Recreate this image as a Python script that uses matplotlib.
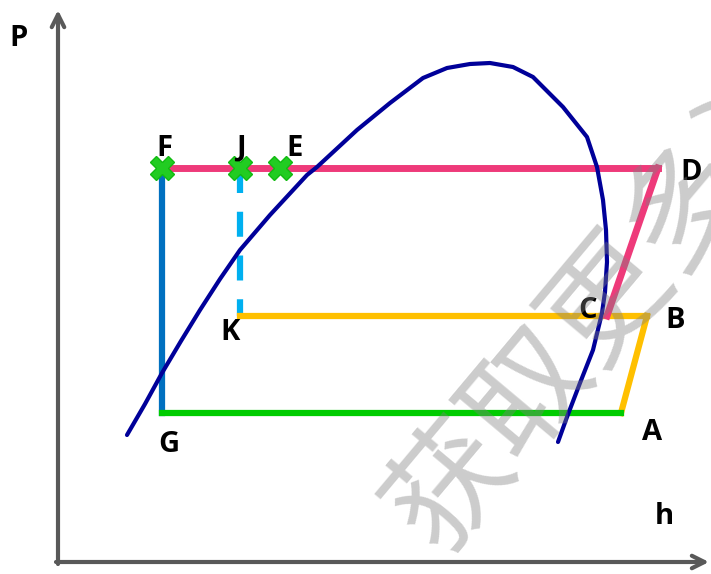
import matplotlib
matplotlib.use('Agg')
import matplotlib.pyplot as plt

W, H = 711, 574

# dome (saturation curve), pixel-like coordinates (y down)
dome_h = [127, 145, 162, 181, 200, 220, 240, 270, 307, 317, 357, 390, 423,
          447, 470, 490, 513, 533, 563, 587, 597, 603, 606, 607, 605, 602,
          593, 580, 567, 558]
dome_p = [435, 404, 373, 341, 310, 279, 250, 215, 175, 167, 130, 103, 78,
          68, 64, 63, 67, 77, 107, 137, 167, 200, 230, 262, 292, 313,
          350, 383, 417, 442]

# cycle points
pts = {
    'F': (162, 168), 'J': (240, 168), 'E': (280, 168), 'D': (658, 168),
    'C': (607, 316), 'K': (240, 316), 'B': (647, 316), 'A': (621, 413),
    'G': (162, 413),
}
# label positions
labels = {
    'F': (164, 148), 'J': (241, 148), 'E': (295, 148), 'D': (691, 173),
    'C': (588, 311), 'B': (675, 320), 'A': (652, 432), 'G': (169, 445),
    'K': (230, 333), 'P': (19, 38), 'h': (664, 517),
}
markers = ['F', 'J', 'E']

fig = plt.figure(figsize=(W / 100, H / 100), dpi=100)
ax = fig.add_axes([0, 0, 1, 1])
ax.set_xlim(0, W)
ax.set_ylim(H, 0)
ax.axis('off')

axcol = '#595959'
ax.annotate('', xy=(58, 10), xytext=(58, 564),
            arrowprops=dict(arrowstyle='->,head_length=0.9,head_width=0.45',
                            lw=3, color=axcol, shrinkA=0, shrinkB=0))
ax.annotate('', xy=(709, 562), xytext=(56, 562),
            arrowprops=dict(arrowstyle='->,head_length=0.9,head_width=0.45',
                            lw=3, color=axcol, shrinkA=0, shrinkB=0))

ax.plot(dome_h, dome_p, color='#000099', lw=3, solid_capstyle='round',
        solid_joinstyle='round', zorder=3)

def seg(a, b, **kw):
    ax.plot([pts[a][0], pts[b][0]], [pts[a][1], pts[b][1]], **kw)

pink = '#EE3A7A'
seg('F', 'D', color=pink, lw=5, zorder=2)
seg('D', 'C', color=pink, lw=5, zorder=4)
seg('F', 'G', color='#0070C0', lw=4.5, zorder=2)
seg('J', 'K', color='#00B0F0', lw=4.5, dashes=(4, 3), zorder=2)
seg('K', 'B', color='#FFC000', lw=4.5, zorder=2)
seg('B', 'A', color='#FFC000', lw=4.5, zorder=2)
seg('G', 'A', color='#00CC00', lw=4.5, zorder=2)

for k in markers:
    ax.plot(*pts[k], marker='X', ms=17, color='#22CC22', mec='#11BB11',
            mew=1, zorder=5)

for k, (x, y) in labels.items():
    ax.text(x, y, k, fontsize=21, fontweight='bold', family='Open Sans',
            ha='center', va='center', zorder=6)

ax.text(648, 252, '获取更多资料', family=['Noto Sans CJK SC', 'DejaVu Sans'],
        fontsize=88, color='#808080', alpha=0.4, rotation=50,
        ha='center', va='center', zorder=7)

fig.savefig('out.png', dpi=100)
